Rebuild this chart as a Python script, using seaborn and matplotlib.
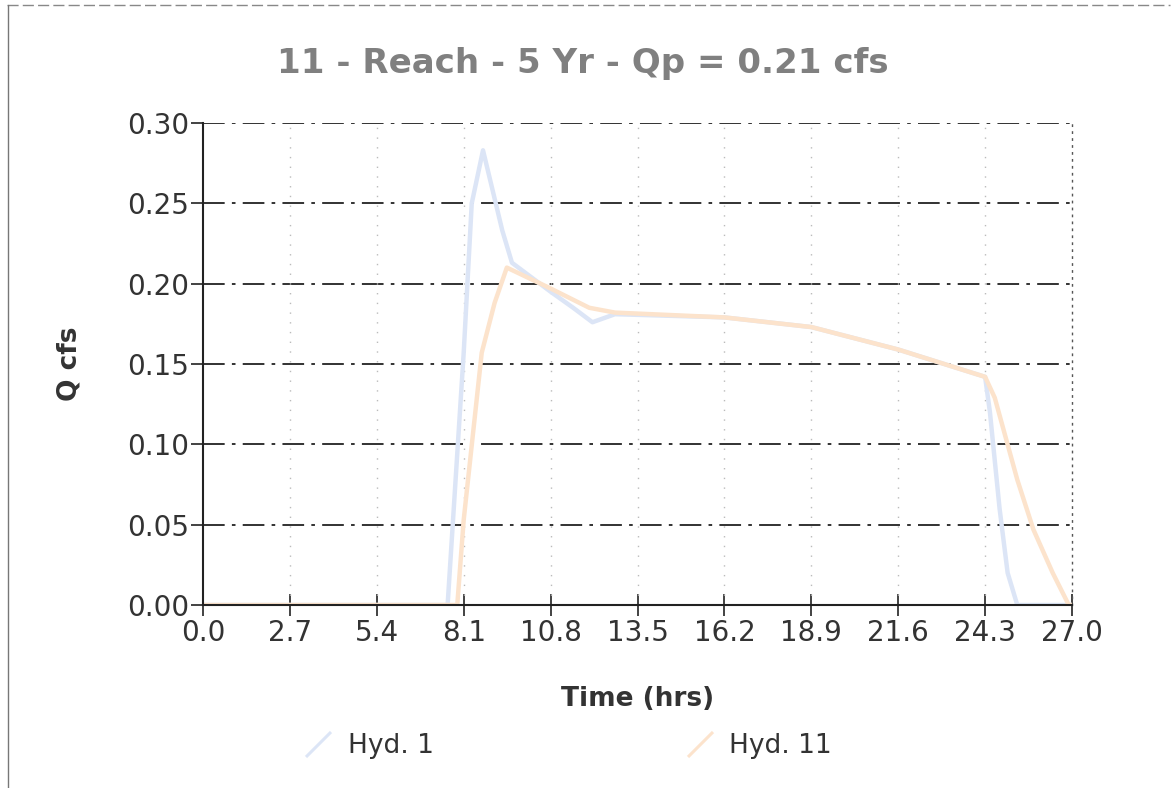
import numpy as np
import pandas as pd
import matplotlib
matplotlib.use("Agg")
import matplotlib.pyplot as plt
from matplotlib.lines import Line2D
import seaborn as sns

# ---- data ----
hyd1_t = [0.0, 7.6, 8.1, 8.35, 8.7, 9.3, 9.6, 10.8, 11.5, 12.1, 12.8, 16.2, 18.9, 21.6, 24.3, 24.45, 24.75, 25.0, 25.3, 27.0]
hyd1_q = [0.0, 0.0, 0.157, 0.25, 0.283, 0.233, 0.213, 0.195, 0.185, 0.176, 0.181, 0.179, 0.173, 0.159, 0.142, 0.12, 0.06, 0.02, 0.0, 0.0]
hyd11_t = [0.0, 7.9, 8.1, 8.66, 9.06, 9.44, 10.8, 12.0, 12.8, 16.2, 18.9, 21.6, 24.3, 24.6, 25.3, 25.8, 26.4, 26.9, 27.0]
hyd11_q = [0.0, 0.0, 0.053, 0.157, 0.188, 0.21, 0.197, 0.185, 0.182, 0.179, 0.173, 0.159, 0.142, 0.129, 0.078, 0.047, 0.02, 0.0, 0.0]
series_names = ["Hyd. 1", "Hyd. 11"]
x_ticks = [0.0, 2.7, 5.4, 8.1, 10.8, 13.5, 16.2, 18.9, 21.6, 24.3, 27.0]
y_ticks = [0.00, 0.05, 0.10, 0.15, 0.20, 0.25, 0.30]
title = "11 - Reach - 5 Yr - Qp = 0.21 cfs"
colors = {"Hyd. 1": "#dce5f6", "Hyd. 11": "#fce3cc"}

df = pd.concat([
    pd.DataFrame({"t": hyd1_t, "q": hyd1_q, "s": series_names[0]}),
    pd.DataFrame({"t": hyd11_t, "q": hyd11_q, "s": series_names[1]}),
])

sns.set_theme(style="white")
plt.rcParams["font.family"] = ["DejaVu Sans"]

fig = plt.figure(figsize=(11.72, 7.88), dpi=100)
ax = fig.add_axes([203/1172, 1-605/788, (1072-203)/1172, (605-123)/788])

sns.lineplot(data=df, x="t", y="q", hue="s", palette=colors, linewidth=3.2,
             ax=ax, legend=False, sort=False, estimator=None)

ax.set_xlim(0, 27)
ax.set_ylim(0, 0.30)
ax.set_xticks(x_ticks)
ax.set_xticklabels([f"{v:.1f}" for v in x_ticks])
ax.set_yticks(y_ticks)
ax.set_yticklabels([f"{v:.2f}" for v in y_ticks])
ax.tick_params(axis="x", bottom=True, direction="inout", length=16, width=1.2, colors="#222",
               labelsize=20, labelcolor="#333", pad=2)
ax.tick_params(axis="y", left=True, direction="out", length=9, width=1.2, colors="#222",
               labelsize=20, labelcolor="#333", pad=1)

for y in y_ticks[1:]:
    ax.axhline(y, color="#222", lw=1.3, ls=(0, (12, 4, 2, 4)), zorder=1)
for x in x_ticks[1:-1]:
    ax.axvline(x, color="#bbbbbb", lw=1.0, ls=(0, (1, 6)), zorder=1)

for side in ["left", "bottom"]:
    ax.spines[side].set_color("#222")
    ax.spines[side].set_linewidth(1.5)
ax.spines["top"].set_visible(False)
ax.spines["right"].set_color("#555")
ax.spines["right"].set_linewidth(1.0)
ax.spines["right"].set_linestyle((0, (1, 4)))

ax.set_xlabel("Time (hrs)", fontsize=19, fontweight="bold", color="#333", labelpad=28)
ax.set_ylabel("Q cfs", fontsize=19, fontweight="bold", color="#333", labelpad=32)
fig.text(0.497, 1-64/788, title, ha="center", va="center", fontsize=24.5,
         fontweight="bold", color="#808080")

diag = [(-1, -1), (1, 1)]
handles = [Line2D([], [], ls="none", marker=diag, markersize=18, markeredgewidth=2.2,
                  color=colors[n]) for n in series_names]
fig.legend(handles, series_names, loc="center", bbox_to_anchor=(0.485, 1-746/788),
           ncol=2, frameon=False, fontsize=19, handlelength=1.0, handletextpad=0.6,
           columnspacing=9.6, labelcolor="#333")

# outer page frame fragments
fig.add_artist(Line2D([0.006, 0.998], [0.994, 0.994], transform=fig.transFigure,
                      color="#888", lw=1.0, ls=(0, (8, 3))))
fig.add_artist(Line2D([0.007, 0.007], [0.0, 0.994], transform=fig.transFigure,
                      color="#777", lw=1.0))

fig.savefig("out.png", dpi=100)
